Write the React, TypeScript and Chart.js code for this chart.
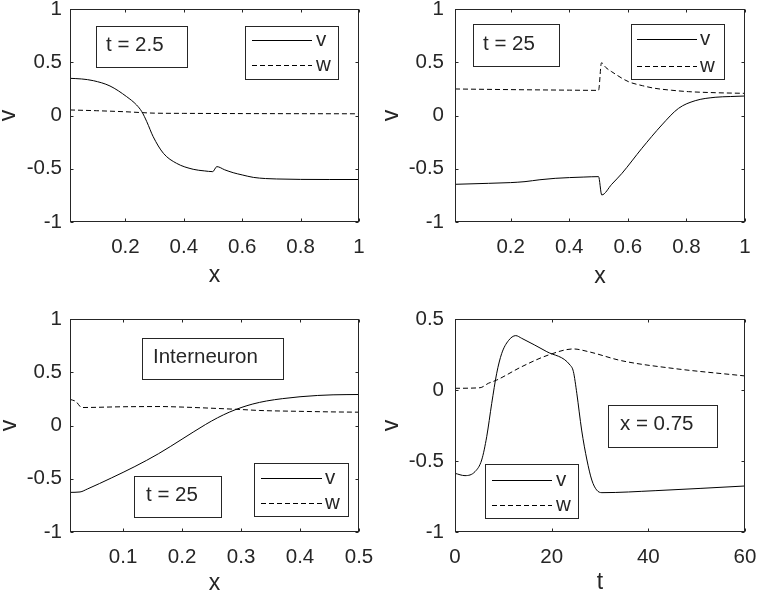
import React, { useEffect, useRef } from 'react';
import { Chart, registerables } from 'chart.js';

Chart.register(...registerables);

const FONT = "'Liberation Sans', Arial, Helvetica, sans-serif";
const INK = '#262626';
const TICK_SIZE = 20.5;
const TITLE_SIZE = 23;
const BOX_SIZE = 20.5;

// ---------- Panel 1 : t = 2.5 ----------
const p1vX = [0.01, 0.05, 0.09, 0.147, 0.204, 0.238, 0.256, 0.273, 0.295, 0.33, 0.375, 0.432, 0.47, 0.499, 0.513, 0.54, 0.569, 0.6, 0.638, 0.68, 0.718, 0.8, 0.9, 1.0];
const p1vY = [0.349, 0.343, 0.327, 0.277, 0.177, 0.099, 0.036, -0.058, -0.199, -0.355, -0.449, -0.505, -0.52, -0.527, -0.48, -0.51, -0.537, -0.558, -0.581, -0.592, -0.596, -0.6, -0.601, -0.601];
const p1wX = [0.01, 0.1, 0.2, 0.25, 0.3, 0.4, 0.6, 0.8, 1.0];
const p1wY = [0.052, 0.045, 0.035, 0.028, 0.022, 0.02, 0.018, 0.017, 0.016];

// ---------- Panel 2 : t = 25 ----------
const p2vX = [0.01, 0.124, 0.2, 0.249, 0.3, 0.352, 0.45, 0.5, 0.511, 0.545, 0.58, 0.648, 0.716, 0.773, 0.83, 0.898, 0.95, 1.0];
const p2vY = [-0.646, -0.637, -0.63, -0.621, -0.603, -0.59, -0.578, -0.574, -0.746, -0.646, -0.543, -0.308, -0.089, 0.067, 0.139, 0.171, 0.178, 0.183];
const p2wX = [0.01, 0.2, 0.4, 0.5, 0.51, 0.525, 0.545, 0.602, 0.65, 0.693, 0.75, 0.807, 0.9, 1.0];
const p2wY = [0.249, 0.243, 0.238, 0.236, 0.495, 0.45, 0.411, 0.318, 0.28, 0.255, 0.237, 0.224, 0.214, 0.208];

// ---------- Panel 3 : Interneuron, t = 25 ----------
const p3vX = [0.01, 0.027, 0.04, 0.06, 0.08, 0.1, 0.12, 0.14, 0.16, 0.18, 0.2, 0.22, 0.24, 0.26, 0.28, 0.3, 0.32, 0.343, 0.37, 0.4, 0.43, 0.456, 0.5];
const p3vY = [-0.628, -0.624, -0.595, -0.545, -0.493, -0.44, -0.385, -0.327, -0.265, -0.198, -0.128, -0.058, 0.01, 0.072, 0.125, 0.168, 0.202, 0.23, 0.252, 0.27, 0.282, 0.288, 0.291];
const p3wX = [0.01, 0.02, 0.03, 0.1, 0.163, 0.2, 0.247, 0.3, 0.332, 0.4, 0.45, 0.5];
const p3wY = [0.245, 0.225, 0.169, 0.176, 0.178, 0.173, 0.163, 0.15, 0.141, 0.133, 0.128, 0.125];

// ---------- Panel 4 : x = 0.75 ----------
const p4vT = [0, 2.07, 4.14, 5.52, 6.56, 7.6, 8.63, 9.67, 11.04, 12.57, 13.8, 18.99, 23.8, 24.5, 25.2, 26.2, 27.3, 28.3, 29.3, 30.4, 41.4, 60];
const p4vY = [-0.587, -0.603, -0.575, -0.493, -0.329, -0.094, 0.118, 0.258, 0.347, 0.383, 0.364, 0.27, 0.176, 0.129, -0.023, -0.282, -0.493, -0.634, -0.704, -0.723, -0.709, -0.676];
const p4wT = [0, 5.18, 6.9, 8.63, 13.8, 19.3, 24.5, 27.6, 34.5, 44.9, 60];
const p4wY = [0.012, 0.016, 0.047, 0.07, 0.164, 0.246, 0.289, 0.27, 0.206, 0.153, 0.099];

// ---------- Ticks ----------
const xTicksUnit = [0.2, 0.4, 0.6, 0.8, 1];
const xTicksHalf = [0.1, 0.2, 0.3, 0.4, 0.5];
const tTicks = [0, 20, 40, 60];
const vTicksFull = [-1, -0.5, 0, 0.5, 1];
const vTicksLow = [-1, -0.5, 0, 0.5];

const seriesLabels = ['v', 'w'];

const zip = (xs: number[], ys: number[]) => xs.map((x, i) => ({ x, y: ys[i] }));

const matlabAxes = {
  id: 'matlabAxes',
  afterDraw(chart: any, _args: any, opts: any) {
    const { ctx, chartArea: a } = chart;
    const xs = chart.scales.x;
    const ys = chart.scales.y;
    const r = (v: number) => Math.round(v) + 0.5;
    const L = r(a.left), R = r(a.right) - 1, T = r(a.top), B = r(a.bottom) - 1;
    ctx.save();
    ctx.strokeStyle = INK;
    ctx.lineWidth = 1;
    ctx.setLineDash([]);
    ctx.strokeRect(L, T, R - L, B - T);
    const tl = 3;
    ctx.beginPath();
    xs.ticks.forEach((t: any) => {
      const px = r(xs.getPixelForValue(t.value));
      ctx.moveTo(px, B); ctx.lineTo(px, B - tl);
      ctx.moveTo(px, T); ctx.lineTo(px, T + tl);
    });
    ys.ticks.forEach((t: any) => {
      const py = r(ys.getPixelForValue(t.value));
      ctx.moveTo(L, py); ctx.lineTo(L + tl, py);
      ctx.moveTo(R, py); ctx.lineTo(R - tl, py);
    });
    ctx.stroke();

    ctx.font = `${BOX_SIZE}px ${FONT}`;
    ctx.textBaseline = 'middle';
    ctx.textAlign = 'left';
    (opts.boxes || []).forEach((b: any) => {
      ctx.fillStyle = '#fff';
      ctx.fillRect(b.x1, b.y1, b.x2 - b.x1, b.y2 - b.y1);
      ctx.strokeStyle = INK;
      ctx.strokeRect(r(b.x1), r(b.y1), Math.round(b.x2 - b.x1), Math.round(b.y2 - b.y1));
      ctx.fillStyle = INK;
      ctx.fillText(b.text, b.tx, b.ty);
    });
    const lg = opts.legend;
    if (lg) {
      ctx.fillStyle = '#fff';
      ctx.fillRect(lg.x1, lg.y1, lg.x2 - lg.x1, lg.y2 - lg.y1);
      ctx.strokeStyle = INK;
      ctx.strokeRect(r(lg.x1), r(lg.y1), Math.round(lg.x2 - lg.x1), Math.round(lg.y2 - lg.y1));
      chart.data.datasets.forEach((ds: any, i: number) => {
        const y = r(lg.rows[i]);
        ctx.strokeStyle = '#000';
        ctx.setLineDash(ds.borderDash || []);
        ctx.beginPath();
        ctx.moveTo(lg.lx1, y);
        ctx.lineTo(lg.lx2, y);
        ctx.stroke();
        ctx.setLineDash([]);
        ctx.fillStyle = INK;
        ctx.fillText(ds.label, lg.tx, lg.rows[i]);
      });
    }
    ctx.restore();
  },
};

type PanelCfg = {
  left: number; top: number; w: number; h: number;
  plot: { l: number; r: number; t: number; b: number };
  v: { x: number; y: number }[];
  wv: { x: number; y: number }[];
  xMin: number; xMax: number; yMin: number; yMax: number;
  xTicks: number[]; yTicks: number[];
  xTitle: string; xTitlePad: number; yTitlePad: number; yTickPad: number;
  boxes: any[]; legend: any;
};

function Panel({ cfg }: { cfg: PanelCfg }) {
  const ref = useRef<HTMLCanvasElement>(null);
  useEffect(() => {
    const zero = (s: any) => { s.paddingLeft = 0; s.paddingRight = 0; s.paddingTop = 0; s.paddingBottom = 0; };
    const chart = new Chart(ref.current as HTMLCanvasElement, {
      type: 'line',
      data: {
        datasets: [
          { label: seriesLabels[0], data: cfg.v, borderColor: '#000', borderWidth: 1, pointRadius: 0, cubicInterpolationMode: 'monotone', fill: false },
          { label: seriesLabels[1], data: cfg.wv, borderColor: '#000', borderWidth: 1, borderDash: [5, 3], pointRadius: 0, cubicInterpolationMode: 'monotone', fill: false },
        ],
      },
      options: {
        animation: false,
        responsive: false,
        events: [],
        layout: { padding: { left: 0, top: cfg.plot.t, right: cfg.w - cfg.plot.r, bottom: 0 } },
        plugins: {
          legend: { display: false },
          tooltip: { enabled: false },
          matlabAxes: { boxes: cfg.boxes, legend: cfg.legend },
        } as any,
        scales: {
          x: {
            type: 'linear', min: cfg.xMin, max: cfg.xMax,
            afterBuildTicks: (s: any) => { s.ticks = cfg.xTicks.map((v) => ({ value: v })); },
            afterFit: (s: any) => { s.height = cfg.h - cfg.plot.b; zero(s); },
            grid: { display: false, drawTicks: false },
            border: { display: false },
            ticks: { font: { family: FONT, size: TICK_SIZE }, color: INK, padding: 13, maxRotation: 0, autoSkip: false, callback: (v: any) => String(v) },
            title: { display: true, text: cfg.xTitle, color: INK, font: { family: FONT, size: TITLE_SIZE, lineHeight: 1 }, padding: { top: 0, bottom: cfg.xTitlePad } },
          },
          y: {
            type: 'linear', min: cfg.yMin, max: cfg.yMax,
            afterBuildTicks: (s: any) => { s.ticks = cfg.yTicks.map((v) => ({ value: v })); },
            afterFit: (s: any) => { s.width = cfg.plot.l; zero(s); },
            grid: { display: false, drawTicks: false },
            border: { display: false },
            ticks: { font: { family: FONT, size: TICK_SIZE }, color: INK, padding: cfg.yTickPad, autoSkip: false, callback: (v: any) => String(v) },
            title: { display: true, text: 'v', color: INK, font: { family: FONT, size: TITLE_SIZE, lineHeight: 1 }, padding: { top: cfg.yTitlePad, bottom: 0 } },
          },
        },
      } as any,
      plugins: [matlabAxes],
    });
    return () => chart.destroy();
  }, []);
  return (
    <canvas
      ref={ref}
      width={cfg.w}
      height={cfg.h}
      style={{ position: 'absolute', left: cfg.left, top: cfg.top, width: cfg.w, height: cfg.h }}
    />
  );
}

const panels: PanelCfg[] = [
  {
    left: 0, top: 0, w: 379, h: 295,
    plot: { l: 70, r: 359, t: 9, b: 222 },
    v: zip(p1vX, p1vY), wv: zip(p1wX, p1wY),
    xMin: 0.01, xMax: 1, yMin: -1, yMax: 1,
    xTicks: xTicksUnit, yTicks: vTicksFull,
    xTitle: 'x', xTitlePad: 8, yTitlePad: -3, yTickPad: 8,
    boxes: [{ x1: 96, y1: 26, x2: 187, y2: 67, text: 't = 2.5', tx: 106, ty: 45 }],
    legend: { x1: 245, y1: 26, x2: 338, y2: 79, lx1: 252, lx2: 312, tx: 316, rows: [40, 65] },
  },
  {
    left: 379, top: 0, w: 379, h: 295,
    plot: { l: 76, r: 366, t: 9, b: 222 },
    v: zip(p2vX, p2vY), wv: zip(p2wX, p2wY),
    xMin: 0.01, xMax: 1, yMin: -1, yMax: 1,
    xTicks: xTicksUnit, yTicks: vTicksFull,
    xTitle: 'x', xTitlePad: 7, yTitlePad: 1, yTickPad: 11,
    boxes: [{ x1: 94, y1: 24, x2: 180, y2: 66, text: 't = 25', tx: 104, ty: 44 }],
    legend: { x1: 252, y1: 24, x2: 345, y2: 79, lx1: 258, lx2: 318, tx: 321, rows: [39, 66] },
  },
  {
    left: 0, top: 295, w: 379, h: 300,
    plot: { l: 70, r: 359, t: 24, b: 237 },
    v: zip(p3vX, p3vY), wv: zip(p3wX, p3wY),
    xMin: 0.01, xMax: 0.5, yMin: -1, yMax: 1,
    xTicks: xTicksHalf, yTicks: vTicksFull,
    xTitle: 'x', xTitlePad: 0, yTitlePad: -2, yTickPad: 8,
    boxes: [
      { x1: 142, y1: 43, x2: 283, y2: 84, text: 'Interneuron', tx: 153, ty: 62 },
      { x1: 134, y1: 181, x2: 221, y2: 222, text: 't = 25', tx: 146, ty: 200 },
    ],
    legend: { x1: 254, y1: 168, x2: 348, y2: 221, lx1: 261, lx2: 322, tx: 325, rows: [183, 208] },
  },
  {
    left: 379, top: 295, w: 379, h: 300,
    plot: { l: 76, r: 366, t: 24, b: 237 },
    v: zip(p4vT, p4vY), wv: zip(p4wT, p4wY),
    xMin: 0, xMax: 60, yMin: -1, yMax: 0.5,
    xTicks: tTicks, yTicks: vTicksLow,
    xTitle: 't', xTitlePad: 1, yTitlePad: 1, yTickPad: 11,
    boxes: [{ x1: 229, y1: 110, x2: 338, y2: 152, text: 'x = 0.75', tx: 241, ty: 129 }],
    legend: { x1: 106, y1: 169, x2: 199, y2: 223, lx1: 113, lx2: 173, tx: 177, rows: [185, 210] },
  },
];

export default function App() {
  return (
    <div style={{ position: 'fixed', left: 0, top: 0, width: 758, height: 595, background: '#fff', overflow: 'hidden' }}>
      {panels.map((p, i) => (
        <Panel key={i} cfg={p} />
      ))}
    </div>
  );
}
